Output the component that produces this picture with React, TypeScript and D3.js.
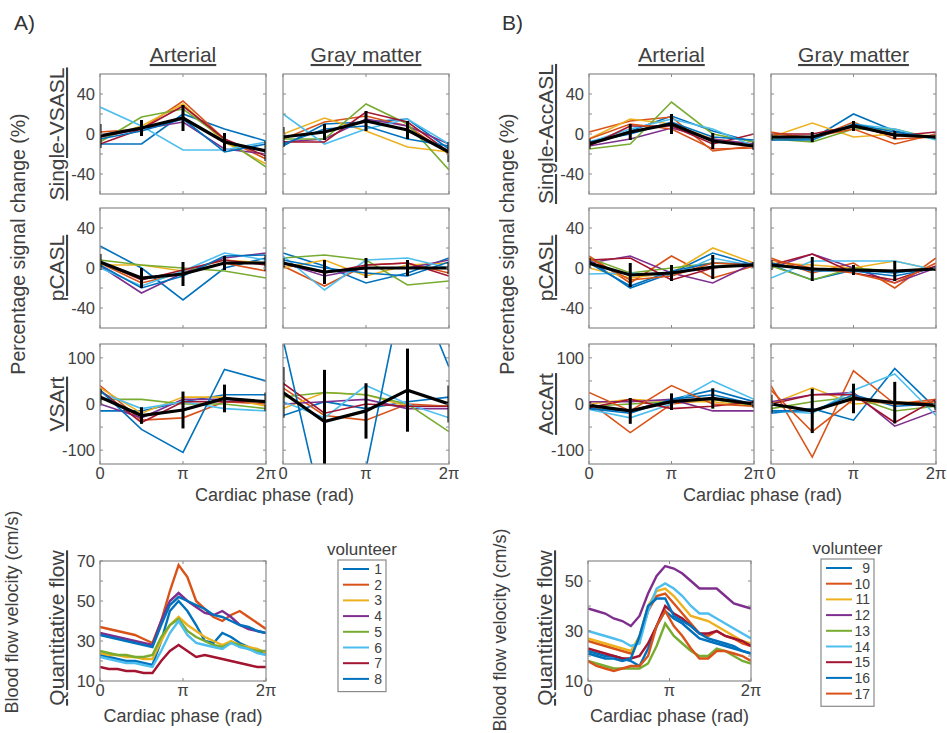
import React from "react";
import * as d3 from "d3";

// MATLAB default colour order
const colors = ["#0072BD", "#D95319", "#EDB120", "#7E2F8E", "#77AC30", "#4DBEEE", "#A2142F"];

// cardiac phase, in units of pi
const phases = [0, 0.5, 1, 1.5, 2];
const flowPhases = [0, 0.105, 0.211, 0.316, 0.421, 0.526, 0.632, 0.737, 0.842, 0.947,
  1.053, 1.158, 1.263, 1.368, 1.474, 1.579, 1.684, 1.789, 1.895, 2];

const xTickLabels = ["0", "π", "2π"];
const colTitles = ["Arterial", "Gray matter"];
const rowLabelsA = ["Single-VSASL", "pCASL", "VSArt"];
const rowLabelsB = ["Single-AccASL", "pCASL", "AccArt"];
const volunteersA = ["1", "2", "3", "4", "5", "6", "7", "8"];
const volunteersB = ["9", "10", "11", "12", "13", "14", "15", "16", "17"];

// ---- A) single-VSASL
const aVsaslArt = [
  [-10, -10, 20, 5, -7], [2, 5, 33, -5, -25], [-5, 8, 30, -8, -30], [-3, 5, 12, -15, -20],
  [-8, 17, 25, -5, -33], [27, 8, -16, -16, -8], [-10, 5, 28, -5, -22], [-5, 3, 15, -18, -10]
];
const aVsaslArtMean = [-2, 6, 16, -8, -17];
const aVsaslArtErr = [12, 8, 13, 9, 10];
const aVsaslGm = [
  [-12, 10, 12, 15, -15], [-5, 12, 18, 8, -20], [0, 16, 3, -13, -18], [-8, -5, 15, 8, -10],
  [-5, -5, 30, 10, -36], [20, -10, 5, 15, -10], [-8, -8, 22, 12, -18], [-10, 5, 8, -5, -12]
];
const aVsaslGmMean = [-3, 2, 13, 4, -18];
const aVsaslGmErr = [10, 8, 10, 9, 10];

// ---- A) pCASL
const aPcaslArt = [
  [22, 0, -32, 0, 10], [5, -15, -5, 5, -3], [3, 3, -3, 8, 5], [2, -25, -5, 10, 15],
  [8, 3, 0, -3, -10], [0, -18, -3, 15, 8], [6, -12, -2, 8, 3], [3, -20, -8, 12, 13]
];
const aPcaslArtMean = [6, -10, -6, 5, 5];
const aPcaslArtErr = [8, 10, 12, 7, 8];
const aPcaslGm = [
  [15, 2, -15, -5, 10], [2, -18, 3, 5, -5], [0, 8, -8, 3, 5], [5, -8, 0, 0, 8],
  [10, 13, 8, -17, -13], [12, -22, 8, 10, 0], [5, -5, 3, 5, -8], [8, 0, -5, -8, 6]
];
const aPcaslGmMean = [5, -4, 0, 0, 0];
const aPcaslGmErr = [5, 12, 10, 8, 6];

// ---- A) VSArt
const aArtArt = [
  [-15, -15, 5, 20, 20], [40, -35, -30, 5, 0], [35, -20, 15, 15, -5], [0, -30, 10, 10, 5],
  [10, 10, 0, 0, -10], [25, -10, 5, -10, -15], [30, -40, 5, 5, 5], [30, -55, -105, 75, 50]
];
const aArtArtMean = [15, -25, -13, 12, 5];
const aArtArtErr = [18, 18, 40, 30, 20];
const aArtGm = [
  [-25, 5, -10, 5, 15], [35, -25, -35, 0, -5], [-10, 25, 20, -5, -5], [0, 5, 10, -10, -10],
  [15, 25, 20, 0, -60], [5, -30, 40, 0, -30], [45, -20, 0, -5, -5], [140, -250, -140, 300, 80]
];
const aArtGmMean = [25, -38, -15, 30, 0];
const aArtGmErr = [55, 112, 60, 90, 40];

// ---- B) single-AccASL
const bAccaslArt = [
  [-10, 3, 18, 3, -8], [2, 13, 17, -17, -12], [-5, 15, 10, -5, -10], [-12, -5, 6, -5, -10],
  [-15, -10, 32, 0, -8], [-8, 5, 15, 5, -12], [-12, 8, 8, -10, 0], [-8, 0, 12, -3, -6],
  [-5, 10, 5, -15, -14]
];
const bAccaslArtMean = [-10, 2, 10, -7, -12];
const bAccaslArtErr = [5, 8, 10, 8, 4];
const bAccaslGm = [
  [-5, -5, 20, 3, -5], [2, -5, 12, -5, -3], [-3, 11, -3, 0, -2], [-6, -3, 8, 0, -3],
  [-5, -8, 5, 5, -5], [-3, -5, 10, 5, -6], [0, 0, 8, -2, 2], [-6, -6, 10, 2, -4],
  [0, -3, 5, -10, 0]
];
const bAccaslGmMean = [-3, -3, 8, -1, -3];
const bAccaslGmErr = [3, 5, 5, 4, 2];

// ---- B) pCASL
const bPcaslArt = [
  [8, -20, -5, 15, 3], [12, -15, 12, -10, 2], [0, -10, -5, 20, 5], [5, 12, -5, -15, 5],
  [10, -5, 0, 5, 3], [-6, -5, -8, 10, 2], [8, 10, -12, 0, 5], [5, -18, -3, 5, 4],
  [10, -12, -8, 5, 3]
];
const bPcaslArtMean = [5, -7, -5, 1, 3];
const bPcaslArtErr = [5, 12, 8, 12, 3];
const bPcaslGm = [
  [3, -12, -2, -5, 0], [10, -5, 5, -20, 10], [5, 3, 0, 7, -2], [0, 14, 0, -15, 0],
  [2, -12, 0, -3, 0], [-10, 7, 7, 7, -2], [3, 14, -5, -12, 2], [5, -3, -3, -8, 0],
  [8, 0, -5, -15, 5]
];
const bPcaslGmMean = [3, -1, -2, -3, -1];
const bPcaslGmErr = [5, 12, 5, 10, 2];

// ---- B) AccArt
const bArtArt = [
  [-10, -15, 10, 30, 5], [5, -62, 0, 10, 0], [0, 10, 5, 5, -5], [5, 5, 10, -15, -15],
  [-5, 0, 5, 10, -3], [-12, -30, 0, 50, 10], [-8, 10, -10, -5, 5], [-10, -20, 10, 20, 0],
  [25, -15, 40, 0, -5]
];
const bArtArtMean = [-3, -15, 5, 12, 0];
const bArtArtErr = [8, 28, 18, 22, 8];
const bArtGm = [
  [-20, -10, -35, 77, -10], [40, -115, 72, 0, 10], [0, 35, 0, 5, 0], [5, 20, 25, -48, -15],
  [-10, 5, 15, -15, -5], [-15, -20, 30, 65, -25], [0, 20, 20, -40, 10], [-15, -15, 20, -5, 0],
  [30, -60, 10, 0, 5]
];
const bArtGmMean = [0, -15, 12, 3, -3];
const bArtGmErr = [20, 48, 32, 45, 10];

// ---- quantitative flow (cm/s)
const flowA = [
  [23, 22, 21, 20, 20, 19, 18, 30, 45, 50, 45, 38, 30, 29, 34, 32, 29, 27, 25, 24],
  [37, 36, 35, 34, 33, 31, 29, 40, 55, 68, 62, 50, 46, 42, 40, 43, 45, 42, 39, 36],
  [24, 23, 23, 22, 22, 21, 21, 30, 38, 42, 38, 35, 32, 30, 28, 30, 28, 27, 26, 24],
  [34, 33, 32, 31, 30, 29, 28, 40, 50, 54, 50, 47, 44, 43, 45, 42, 38, 36, 35, 34],
  [25, 24, 23, 23, 22, 22, 23, 32, 38, 41, 35, 32, 30, 28, 27, 29, 28, 26, 25, 25],
  [22, 21, 20, 19, 19, 18, 17, 25, 34, 40, 33, 29, 28, 27, 26, 29, 27, 26, 24, 23],
  [17, 16, 16, 15, 15, 14, 14, 20, 25, 28, 25, 22, 23, 22, 21, 20, 19, 18, 17, 17],
  [33, 32, 31, 30, 29, 28, 27, 38, 48, 52, 50, 48, 46, 43, 42, 40, 38, 37, 35, 34]
];
const flowB = [
  [22, 21, 20, 20, 19, 18, 16, 23, 32, 38, 35, 33, 30, 27, 26, 25, 24, 23, 22, 21],
  [26, 25, 24, 23, 22, 21, 27, 38, 44, 45, 41, 37, 33, 29, 28, 30, 28, 27, 25, 24],
  [27, 26, 25, 24, 23, 22, 28, 40, 46, 47, 44, 40, 36, 35, 34, 32, 30, 28, 26, 25],
  [39, 38, 37, 35, 34, 32, 36, 45, 52, 56, 55, 53, 50, 47, 47, 47, 44, 41, 40, 39],
  [18, 17, 16, 15, 15, 15, 15, 17, 24, 33, 28, 25, 22, 20, 20, 23, 22, 20, 18, 17],
  [30, 29, 28, 27, 26, 24, 25, 38, 47, 49, 47, 44, 40, 37, 37, 35, 33, 31, 29, 27],
  [23, 22, 21, 20, 19, 19, 20, 25, 32, 40, 37, 35, 32, 29, 29, 30, 28, 27, 26, 24],
  [21, 20, 19, 19, 18, 19, 28, 40, 43, 43, 36, 34, 32, 29, 27, 26, 25, 24, 22, 21],
  [18, 16, 15, 14, 15, 16, 16, 20, 32, 38, 32, 28, 23, 19, 19, 22, 22, 21, 20, 18]
];

const textCol = "#404040";
const boxCol = "#8a8a8a";
const font = "'Liberation Sans', Arial, Helvetica, sans-serif";

type PanelProps = {
  id: string;
  left: number;
  top: number;
  width: number;
  height: number;
  xs: number[];
  yDomain: [number, number];
  yTicks: number[];
  yLabels: number[];
  series: number[][];
  mean?: number[];
  err?: number[];
  showYLabels: boolean;
  showXLabels: boolean;
  lineWidth: number;
};

function Panel(p: PanelProps) {
  const x = d3.scaleLinear().domain([0, 2]).range([p.left, p.left + p.width]);
  const y = d3.scaleLinear().domain(p.yDomain).range([p.top + p.height, p.top]);
  const line = d3
    .line<number>()
    .x((d, i) => x(p.xs[i]))
    .y(d => y(d));
  const tl = 3;
  return (
    <g>
      <defs>
        <clipPath id={p.id}>
          <rect x={p.left} y={p.top} width={p.width} height={p.height} />
        </clipPath>
      </defs>
      <rect x={p.left} y={p.top} width={p.width} height={p.height} fill="white" />
      <g clipPath={`url(#${p.id})`}>
        {p.series.map((s, i) => (
          <path key={i} d={line(s) || ""} fill="none" stroke={colors[i % colors.length]} strokeWidth={p.lineWidth} />
        ))}
        {p.mean && (
          <path d={line(p.mean) || ""} fill="none" stroke="black" strokeWidth={3.2} />
        )}
        {p.mean &&
          p.err &&
          p.mean.map((m, i) => (
            <line key={i} x1={x(p.xs[i])} x2={x(p.xs[i])} y1={y(m - p.err![i])} y2={y(m + p.err![i])} stroke="black" strokeWidth={3} />
          ))}
      </g>
      {p.yTicks.map(t => (
        <g key={t}>
          <line x1={p.left} x2={p.left + tl} y1={y(t)} y2={y(t)} stroke={boxCol} />
          <line x1={p.left + p.width} x2={p.left + p.width - tl} y1={y(t)} y2={y(t)} stroke={boxCol} />
        </g>
      ))}
      {[0, 1, 2].map(t => (
        <g key={t}>
          <line x1={x(t)} x2={x(t)} y1={p.top} y2={p.top + tl} stroke={boxCol} />
          <line x1={x(t)} x2={x(t)} y1={p.top + p.height} y2={p.top + p.height - tl} stroke={boxCol} />
        </g>
      ))}
      <rect x={p.left} y={p.top} width={p.width} height={p.height} fill="none" stroke={boxCol} strokeWidth={1.2} />
      {p.showYLabels &&
        p.yLabels.map(t => (
          <text key={t} x={p.left - 5} y={y(t)} dy="0.35em" textAnchor="end" fontSize={16.5} fill={textCol}>
            {t}
          </text>
        ))}
      {p.showXLabels &&
        [0, 1, 2].map(t => (
          <text key={t} x={x(t)} y={p.top + p.height + 15} textAnchor="middle" fontSize={16.5} fill={textCol}>
            {xTickLabels[t]}
          </text>
        ))}
    </g>
  );
}

type Block = { series: number[][]; mean: number[]; err: number[] };

function Grid(props: {
  tag: string;
  letter: string;
  lx: number;
  cols: [number, number][];
  rowLabels: string[];
  blocks: Block[][];
}) {
  const rows = [
    { top: 74, domain: [-60, 60] as [number, number], ticks: [-40, -20, 0, 20, 40], labels: [-40, 0, 40] },
    { top: 208, domain: [-60, 60] as [number, number], ticks: [-40, -20, 0, 20, 40], labels: [-40, 0, 40] },
    { top: 344, domain: [-130, 130] as [number, number], ticks: [-100, -50, 0, 50, 100], labels: [-100, 0, 100] }
  ];
  const h = 120;
  const left = props.cols[0][0];
  const right = props.cols[1][1];
  return (
    <g>
      <text x={props.lx} y={30} fontSize={21} fill="#333">{props.letter}</text>
      {props.cols.map((c, ci) => (
        <text key={ci} x={(c[0] + c[1]) / 2} y={62} textAnchor="middle" fontSize={21} fill={textCol} style={{ textDecoration: "underline" }}>
          {colTitles[ci]}
        </text>
      ))}
      {rows.map((r, ri) => (
        <text key={ri} transform={`translate(${left - 36},${r.top + h / 2}) rotate(-90)`} textAnchor="middle" fontSize={21} fill={textCol} style={{ textDecoration: "underline" }}>
          {props.rowLabels[ri]}
        </text>
      ))}
      <text transform={`translate(${left - 75},${244}) rotate(-90)`} textAnchor="middle" fontSize={19.5} fill={textCol}>
        Percentage signal change (%)
      </text>
      <text x={(left + right) / 2} y={501} textAnchor="middle" fontSize={18} fill={textCol}>
        Cardiac phase (rad)
      </text>
      {rows.map((r, ri) =>
        props.cols.map((c, ci) => (
          <Panel
            key={`${ri}-${ci}`}
            id={`${props.tag}-${ri}-${ci}`}
            left={c[0]}
            top={r.top}
            width={c[1] - c[0]}
            height={h}
            xs={phases}
            yDomain={r.domain}
            yTicks={r.ticks}
            yLabels={r.labels}
            series={props.blocks[ri][ci].series}
            mean={props.blocks[ri][ci].mean}
            err={props.blocks[ri][ci].err}
            showYLabels={ci === 0}
            showXLabels={ri === 2}
            lineWidth={1.6}
          />
        ))
      )}
    </g>
  );
}

function FlowPlot(props: {
  tag: string;
  left: number;
  right: number;
  yDomain: [number, number];
  yTicks: number[];
  yLabels: number[];
  series: number[][];
  names: string[];
  legendX: number;
  legendY: number;
  legendW: number;
  velLabelY: number;
}) {
  const top = 561;
  const h = 120;
  const rowH = 15.7;
  const legH = props.names.length * rowH + 6;
  return (
    <g>
      <Panel
        id={`${props.tag}-flow`}
        left={props.left}
        top={top}
        width={props.right - props.left}
        height={h}
        xs={flowPhases}
        yDomain={props.yDomain}
        yTicks={props.yTicks}
        yLabels={props.yLabels}
        series={props.series}
        showYLabels={true}
        showXLabels={true}
        lineWidth={2.4}
      />
      <text transform={`translate(${props.left - 82},${props.velLabelY}) rotate(-90)`} textAnchor="middle" fontSize={18} fill={textCol}>
        Blood flow velocity (cm/s)
      </text>
      <text transform={`translate(${props.left - 36},${628}) rotate(-90)`} textAnchor="middle" fontSize={21} fill={textCol} style={{ textDecoration: "underline" }}>
        Quantitative flow
      </text>
      <text x={(props.left + props.right) / 2} y={722} textAnchor="middle" fontSize={18} fill={textCol}>
        Cardiac phase (rad)
      </text>
      <text x={props.legendX + props.legendW / 2} y={props.legendY - 5} textAnchor="middle" fontSize={17} fill={textCol}>
        volunteer
      </text>
      <rect x={props.legendX} y={props.legendY} width={props.legendW} height={legH} fill="white" stroke={boxCol} strokeWidth={1.2} />
      {props.names.map((n, i) => {
        const yy = props.legendY + 9 + i * rowH;
        return (
          <g key={n}>
            <line x1={props.legendX + 5} x2={props.legendX + 31} y1={yy} y2={yy} stroke={colors[i % colors.length]} strokeWidth={2} />
            <text x={props.legendX + props.legendW - 4} y={yy} dy="0.36em" textAnchor="end" fontSize={14} fill={textCol}>
              {n}
            </text>
          </g>
        );
      })}
    </g>
  );
}

export default function App() {
  const blocksA: Block[][] = [
    [
      { series: aVsaslArt, mean: aVsaslArtMean, err: aVsaslArtErr },
      { series: aVsaslGm, mean: aVsaslGmMean, err: aVsaslGmErr }
    ],
    [
      { series: aPcaslArt, mean: aPcaslArtMean, err: aPcaslArtErr },
      { series: aPcaslGm, mean: aPcaslGmMean, err: aPcaslGmErr }
    ],
    [
      { series: aArtArt, mean: aArtArtMean, err: aArtArtErr },
      { series: aArtGm, mean: aArtGmMean, err: aArtGmErr }
    ]
  ];
  const blocksB: Block[][] = [
    [
      { series: bAccaslArt, mean: bAccaslArtMean, err: bAccaslArtErr },
      { series: bAccaslGm, mean: bAccaslGmMean, err: bAccaslGmErr }
    ],
    [
      { series: bPcaslArt, mean: bPcaslArtMean, err: bPcaslArtErr },
      { series: bPcaslGm, mean: bPcaslGmMean, err: bPcaslGmErr }
    ],
    [
      { series: bArtArt, mean: bArtArtMean, err: bArtArtErr },
      { series: bArtGm, mean: bArtGmMean, err: bArtGmErr }
    ]
  ];
  return (
    <svg
      width={947}
      height={733}
      style={{ position: "absolute", left: 0, top: 0, background: "white", fontFamily: font }}
    >
      <Grid tag="a" letter="A)" lx={14} cols={[[100, 266], [283, 449]]} rowLabels={rowLabelsA} blocks={blocksA} />
      <Grid tag="b" letter="B)" lx={502} cols={[[589, 754], [771, 936]]} rowLabels={rowLabelsB} blocks={blocksB} />
      <FlowPlot
        tag="a"
        left={100}
        right={266}
        yDomain={[10, 70]}
        yTicks={[10, 20, 30, 40, 50, 60, 70]}
        yLabels={[10, 30, 50, 70]}
        series={flowA}
        names={volunteersA}
        legendX={338}
        legendY={560}
        legendW={48}
        velLabelY={612}
      />
      <FlowPlot
        tag="b"
        left={588}
        right={751}
        yDomain={[10, 58]}
        yTicks={[10, 20, 30, 40, 50]}
        yLabels={[10, 30, 50]}
        series={flowB}
        names={volunteersB}
        legendX={821}
        legendY={559}
        legendW={53}
        velLabelY={630}
      />
    </svg>
  );
}
